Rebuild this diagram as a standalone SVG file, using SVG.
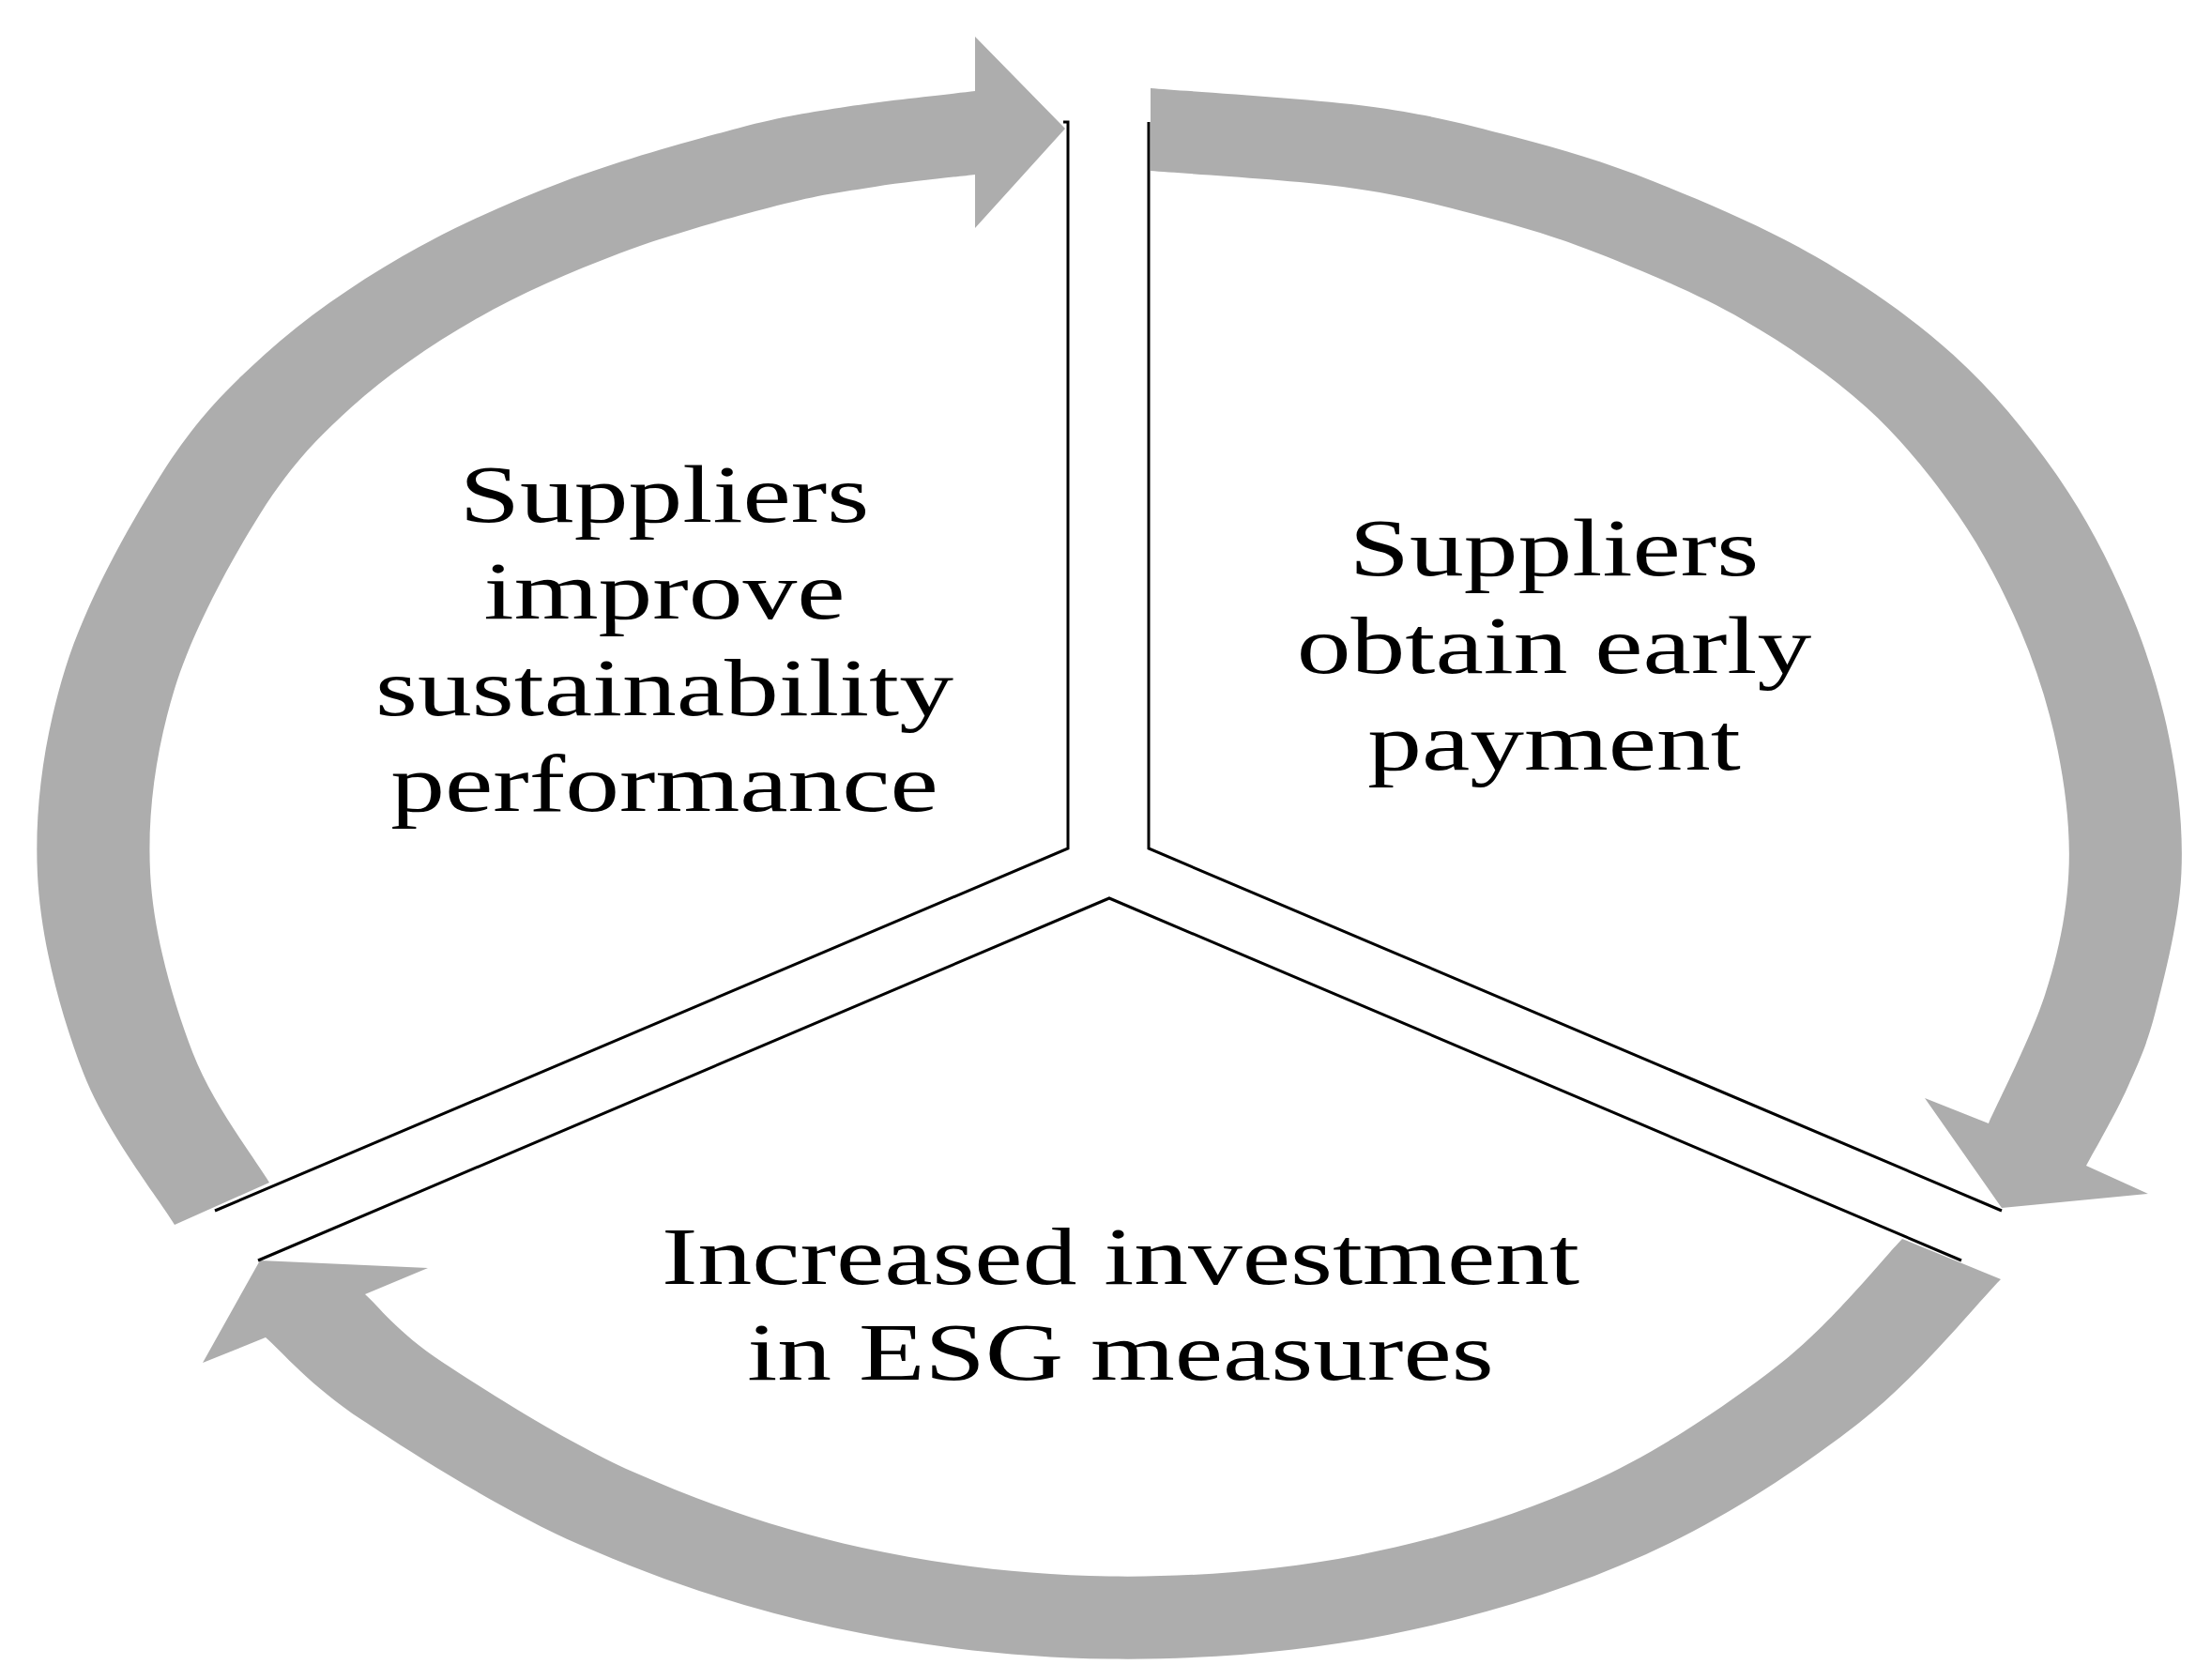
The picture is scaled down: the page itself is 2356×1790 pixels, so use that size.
<svg xmlns="http://www.w3.org/2000/svg" width="2356" height="1790" viewBox="0 0 2356 1790">
<style>
.arrow{fill:#adadad;stroke:none}
.seg{fill:none;stroke:#000;stroke-width:3;stroke-linejoin:miter}
.lbl{font-family:"Liberation Serif","Times New Roman",serif;font-size:86px;fill:#000;text-anchor:middle}
</style>
<rect x="0" y="0" width="2356" height="1790" fill="#fff"/>
<g id="connectors">
<path id="arrow-improve-to-payment" class="arrow" d="M186,1305 C169.9,1278.3 113.8,1207.2 89.4,1144.8 C65.1,1082.4 43.2,1002.6 39.9,930.5 C36.6,858.4 47.5,783.4 69.6,712.3 C91.8,641.2 137.4,559.8 172.8,504 C208.2,448.2 239.4,416.2 282,377.7 C324.6,339.3 375.3,304 428.4,273.3 C481.5,242.6 540.8,216.3 600.5,193.5 C660.3,170.7 736.4,149.7 786.9,136.4 C837.4,123.1 861.4,120.1 903.4,113.5 C945.4,106.9 1016.4,99.8 1039,97 L1039,39 L1135,137 L1039,243 L1039,186 C1021.2,188.2 967.6,193.4 932.4,198.9 C897.2,204.4 873.3,207.3 828,219.1 C782.7,230.9 714.3,249.4 660.6,269.7 C606.9,290 553.5,313.3 505.7,340.7 C457.9,368.1 412.1,399.8 374,434.3 C335.9,468.9 308.3,497.9 276.9,548 C245.5,598.1 205.2,671.4 185.7,735.1 C166.2,798.9 156.8,866 160.1,930.5 C163.4,995 184.4,1067.1 205.5,1122 C226.7,1176.9 273.4,1237 287,1260 Z"/>
<path id="arrow-payment-to-investment" class="arrow" d="M1226,94 C1264.9,97.3 1394.9,104.8 1459.6,113.5 C1524.3,122.2 1563.7,132.8 1614.2,146.1 C1664.7,159.4 1709.1,172.3 1762.5,193.5 C1815.9,214.7 1881.5,242.6 1934.6,273.3 C1987.7,304 2038.4,339.3 2081,377.7 C2123.6,416.2 2159.4,460 2190.2,504 C2221,548 2245.6,594.7 2265.7,641.5 C2285.9,688.3 2301.3,736.5 2311.1,784.7 C2320.9,832.9 2326.6,882.2 2324.4,930.5 C2322.2,978.8 2307.3,1036.6 2297.7,1074.6 C2288.2,1112.6 2279.6,1130.5 2267.1,1158.4 C2254.7,1186.3 2230.4,1228.1 2223,1242 L2289,1272 L2133,1287 L2051,1170 L2119,1197 C2129.1,1174.1 2165.1,1103.7 2179.3,1059.3 C2193.5,1014.9 2202.1,973.7 2204.3,930.5 C2206.6,887.3 2201.4,843.2 2192.8,800 C2184.2,756.9 2170.7,713.6 2152.9,671.6 C2135.1,629.6 2113.4,587.6 2086.1,548 C2058.8,508.5 2027.1,468.9 1989,434.3 C1950.9,399.8 1905.1,368.1 1857.3,340.7 C1809.5,313.3 1750.4,288.5 1702.4,269.7 C1654.4,250.9 1614.5,239.5 1569.2,227.7 C1523.9,215.9 1487.8,206.5 1430.6,198.9 C1373.4,191.3 1260.1,184.8 1226,182 Z"/>
<path id="arrow-investment-to-improve" class="arrow" d="M2132,1363 C2106.8,1388.5 2044.1,1467.1 1981,1516 C1917.9,1564.9 1837.4,1618.6 1753.6,1656.2 C1669.8,1693.9 1573.8,1723.4 1478.4,1741.9 C1383.1,1760.5 1280,1768.8 1181.5,1767.5 C1083,1766.2 981.5,1754.4 887.5,1734.1 C793.5,1713.8 701.2,1682.6 617.6,1645.8 C534,1609 441.7,1549.9 385.9,1513.1 C330.1,1476.3 300.2,1439.7 283,1425 L216,1452 L277,1343 L456,1351 L389,1379 C402.7,1391 422.8,1419.1 470.9,1450.9 C519,1482.7 603,1536.6 677.6,1569.6 C752.2,1602.6 834.6,1630.8 918.6,1649.1 C1002.6,1667.4 1093.4,1678.2 1181.5,1679.5 C1269.6,1680.8 1362,1673.5 1447.3,1656.9 C1532.7,1640.3 1618.8,1613.9 1693.6,1580 C1768.4,1546.2 1840.4,1497.1 1896,1453.8 C1951.6,1410.5 2005.2,1342.3 2027,1320 Z"/>
</g>
<g id="node-improve">
<polyline class="seg" points="1133,130 1138,130 1138,904 229,1290"/>
<text class="lbl" transform="translate(708,556) scale(1.343,1)">Suppliers</text>
<text class="lbl" transform="translate(708,659) scale(1.343,1)">improve</text>
<text class="lbl" transform="translate(708,762) scale(1.343,1)">sustainability</text>
<text class="lbl" transform="translate(708,864) scale(1.343,1)">performance</text>
</g>
<g id="node-payment">
<polyline class="seg" points="1224,130 1224,904 2133,1290"/>
<text class="lbl" transform="translate(1656,613) scale(1.343,1)">Suppliers</text>
<text class="lbl" transform="translate(1656,717) scale(1.343,1)">obtain early</text>
<text class="lbl" transform="translate(1656,820) scale(1.343,1)">payment</text>
</g>
<g id="node-investment">
<polyline class="seg" points="275,1343 1182,957 2090,1343"/>
<text class="lbl" transform="translate(1194,1368) scale(1.343,1)">Increased investment</text>
<text class="lbl" transform="translate(1194,1470) scale(1.343,1)">in ESG measures</text>
</g>
</svg>
